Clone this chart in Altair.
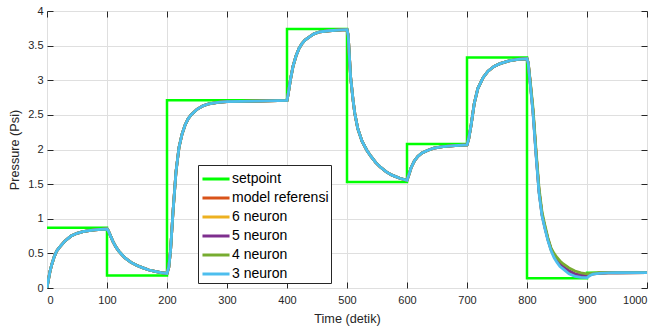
import altair as alt
import pandas as pd

# ---- data ----
series_names = ["setpoint", "model referensi", "6 neuron", "5 neuron", "4 neuron", "3 neuron"]
series_colors = ["#00FF00", "#D95319", "#EDB120", "#7E2F8E", "#77AC30", "#4DBEEE"]

setpoint_t = [0, 100, 200, 400, 500, 600, 700, 800, 900, 1000]
setpoint_v = [0.87, 0.18, 2.71, 3.74, 1.53, 2.08, 3.33, 0.14, 0.22, 0.22]

# responses (all five curves overlap between 0 and 800 s)
base_t = [0, 2, 5, 8, 12, 16, 20, 25, 30, 40, 50, 60, 70, 80, 90, 100,
          102, 105, 110, 115, 120, 125, 130, 140, 150, 160, 170, 180, 190, 200,
          203, 206, 210, 215, 220, 225, 230, 235, 240, 250, 260, 270, 285, 300, 350, 400,
          402, 406, 410, 415, 420, 425, 430, 438, 445, 455, 470, 485, 500,
          502, 504, 506, 510, 513, 518, 525, 533, 540, 548, 555, 565, 575, 588, 600,
          603, 607, 612, 618, 625, 635, 645, 660, 680, 700,
          703, 707, 712, 718, 727, 735, 745, 755, 770, 785, 800]
base_v = [0.0, 0.1, 0.24, 0.34, 0.45, 0.53, 0.58, 0.63, 0.68, 0.75, 0.79, 0.815, 0.83, 0.84, 0.848, 0.852,
          0.83, 0.77, 0.67, 0.59, 0.53, 0.48, 0.435, 0.37, 0.325, 0.29, 0.26, 0.24, 0.222, 0.21,
          0.3, 0.55, 1.1, 1.68, 2.03, 2.22, 2.35, 2.44, 2.5, 2.58, 2.63, 2.66, 2.68, 2.69, 2.70, 2.71,
          2.8, 3.02, 3.2, 3.35, 3.46, 3.53, 3.58, 3.63, 3.67, 3.7, 3.715, 3.725, 3.73,
          3.65, 3.35, 3.05, 2.72, 2.52, 2.3, 2.12, 1.99, 1.9, 1.81, 1.75, 1.68, 1.63, 1.585, 1.555,
          1.63, 1.74, 1.83, 1.9, 1.95, 1.99, 2.02, 2.04, 2.055, 2.065,
          2.16, 2.36, 2.66, 2.88, 3.04, 3.13, 3.2, 3.24, 3.28, 3.3, 3.31]

# last step (800 - 1000 s), where the curves separate
tail_t = [800, 802, 805, 810, 815, 820, 825, 830, 835, 840, 845, 850, 855, 860,
          870, 880, 890, 900, 905, 910, 920, 935, 950, 1000]
tail_model = [3.31, 3.25, 3.0, 2.55, 1.95, 1.4, 1.06, 0.87, 0.7, 0.56, 0.47, 0.4, 0.345, 0.3,
              0.24, 0.2, 0.18, 0.17, 0.19, 0.205, 0.213, 0.218, 0.22, 0.222]
tail_n6 = [3.31, 3.25, 3.0, 2.55, 1.95, 1.4, 1.06, 0.87, 0.7, 0.55, 0.46, 0.39, 0.33, 0.285,
           0.225, 0.185, 0.165, 0.158, 0.19, 0.205, 0.213, 0.218, 0.22, 0.222]
tail_n5 = [3.31, 3.25, 3.0, 2.55, 1.95, 1.4, 1.06, 0.87, 0.7, 0.565, 0.475, 0.41, 0.355, 0.31,
           0.25, 0.205, 0.185, 0.175, 0.19, 0.205, 0.213, 0.218, 0.22, 0.222]
tail_n4 = [3.31, 3.26, 3.02, 2.6, 2.0, 1.45, 1.1, 0.9, 0.72, 0.58, 0.5, 0.44, 0.39, 0.35,
           0.29, 0.245, 0.22, 0.205, 0.21, 0.215, 0.22, 0.221, 0.222, 0.222]
tail_n3 = [3.31, 3.25, 2.98, 2.52, 1.92, 1.37, 1.04, 0.85, 0.68, 0.54, 0.44, 0.37, 0.31, 0.275,
           0.205, 0.168, 0.153, 0.15, 0.18, 0.2, 0.212, 0.218, 0.22, 0.222]

tails = {
    "model referensi": tail_model,
    "6 neuron": tail_n6,
    "5 neuron": tail_n5,
    "4 neuron": tail_n4,
    "3 neuron": tail_n3,
}

rows = [{"series": "setpoint", "t": t, "v": v} for t, v in zip(setpoint_t, setpoint_v)]
for name, tail in tails.items():
    ts = base_t + tail_t[1:]
    vs = base_v + tail[1:]
    rows += [{"series": name, "t": t, "v": v} for t, v in zip(ts, vs)]
df = pd.DataFrame(rows)

FONT = "Liberation Sans"
INK = "#262626"

x_scale = alt.Scale(domain=[0, 1000], nice=False, zero=False)
y_scale = alt.Scale(domain=[0, 4], nice=False, zero=False)
color_scale = alt.Scale(domain=series_names, range=series_colors)

x_ticks = list(range(0, 1001, 100))
y_ticks = [0, 0.5, 1, 1.5, 2, 2.5, 3, 3.5, 4]

x_axis = alt.Axis(values=x_ticks, orient="bottom", offset=-6, tickSize=6, domain=False,
                  grid=True, gridColor="#dfdfdf", tickColor=INK, format="d",
                  labelPadding=6, labelFont=FONT, labelFontSize=11, labelColor=INK,
                  title="Time (detik)", titleFont=FONT, titleFontSize=12.7,
                  titleFontWeight="normal", titleColor=INK, titlePadding=7)
y_axis = alt.Axis(values=y_ticks, orient="left", offset=-6, tickSize=6, domain=False,
                  grid=True, gridColor="#dfdfdf", tickColor=INK, format="~g",
                  labelPadding=4, labelFont=FONT, labelFontSize=11, labelColor=INK,
                  title="Pressure (Psi)", titleFont=FONT, titleFontSize=12.7,
                  titleFontWeight="normal", titleColor=INK, titlePadding=6)
x_axis_top = alt.Axis(values=x_ticks, orient="top", offset=-6, tickSize=6, domain=False,
                      grid=False, labels=False, title=None, tickColor=INK)
y_axis_right = alt.Axis(values=y_ticks, orient="right", offset=-6, tickSize=6, domain=False,
                        grid=False, labels=False, title=None, tickColor=INK)

legend = alt.Legend(title=None, orient="none", legendX=151, legendY=154,
                    symbolType="M-1.32,0H1.32", symbolSize=420, symbolStrokeWidth=3,
                    symbolOffset=4,
                    labelFont=FONT, labelFontSize=14, labelColor="#000000", labelOffset=4,
                    strokeColor=INK, fillColor="#ffffff", padding=2, rowPadding=0)


def series_layer(name, axes, interp="linear", width=2.8):
    return alt.Chart(df).transform_filter(alt.datum.series == name).mark_line(
        strokeWidth=width, interpolate=interp, clip=True
    ).encode(
        x=alt.X("t:Q", scale=x_scale, axis=x_axis if axes else None),
        y=alt.Y("v:Q", scale=y_scale, axis=y_axis if axes else None),
        color=alt.Color("series:N", scale=color_scale, legend=legend),
    )


layers = [series_layer("setpoint", True, "step-after", 2.5)]
for name in series_names[1:]:
    layers.append(series_layer(name, False))

frame_ticks = alt.Chart(df).transform_filter(alt.datum.series == "setpoint").mark_line(
    opacity=0
).encode(
    x=alt.X("t:Q", scale=x_scale, axis=x_axis_top),
    y=alt.Y("v:Q", scale=y_scale, axis=y_axis_right),
)
layers.append(frame_ticks)

chart = alt.layer(*layers).resolve_axis(x="independent", y="independent").properties(
    width=600, height=277,
    autosize=alt.AutoSizeParams(type="none"),
    padding={"left": 47, "top": 11, "right": 16, "bottom": 43},
).configure_view(stroke=INK, strokeWidth=1).configure(background="white")

chart.save("out.html", embed_options={"renderer": "svg", "actions": False})
